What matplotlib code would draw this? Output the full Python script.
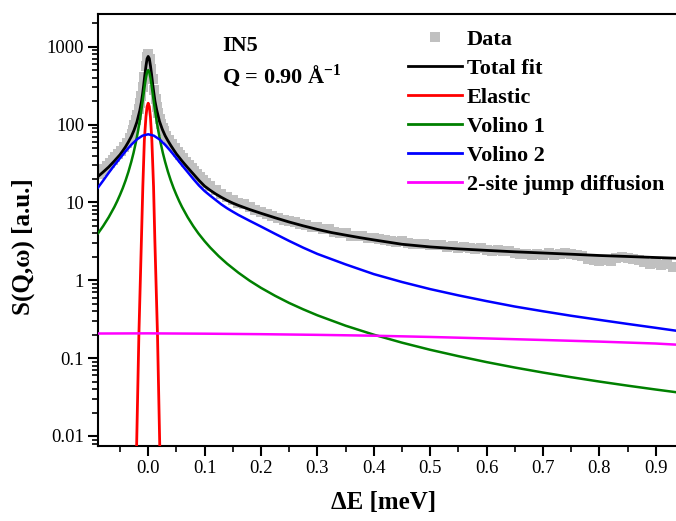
import matplotlib
matplotlib.use("Agg")
import matplotlib.pyplot as plt
from matplotlib.lines import Line2D
from matplotlib.ticker import FixedLocator, NullFormatter, LogLocator

plt.rcParams['font.family'] = ['Liberation Serif', 'DejaVu Serif']
plt.rcParams['mathtext.fontset'] = 'custom'
plt.rcParams['mathtext.rm'] = 'Liberation Serif'
plt.rcParams['mathtext.bf'] = 'Liberation Serif:bold'

# ---------------- data ----------------
data_x = [-0.088, -0.083, -0.078, -0.073, -0.068, -0.063, -0.058, -0.053, -0.048, -0.043,
          -0.038, -0.033, -0.0295, -0.027, -0.0245, -0.022, -0.0195, -0.017, -0.0145, -0.012,
          -0.0095, -0.007, -0.0045, -0.002, 0.0005, 0.003, 0.0055, 0.008, 0.0105, 0.013,
          0.0155, 0.018, 0.0205, 0.023, 0.0255, 0.028, 0.032, 0.037, 0.042, 0.047,
          0.052, 0.057, 0.062, 0.067, 0.072, 0.077, 0.082, 0.087, 0.092, 0.097, 0.102,
          0.11, 0.12, 0.13, 0.14, 0.15, 0.16, 0.17, 0.18, 0.19, 0.20,
          0.21, 0.22, 0.23, 0.24, 0.25, 0.26, 0.27, 0.28, 0.29, 0.30,
          0.31, 0.32, 0.33, 0.34, 0.35, 0.36, 0.37, 0.38, 0.39, 0.40,
          0.41, 0.42, 0.43, 0.44, 0.45, 0.46, 0.47, 0.48, 0.49, 0.50,
          0.51, 0.52, 0.53, 0.54, 0.55, 0.56, 0.57, 0.58, 0.59, 0.60,
          0.61, 0.62, 0.63, 0.64, 0.65, 0.66, 0.67, 0.68, 0.69, 0.70,
          0.71, 0.72, 0.73, 0.74, 0.75, 0.76, 0.77, 0.78, 0.79, 0.80,
          0.81, 0.82, 0.83, 0.84, 0.85, 0.86, 0.87, 0.88, 0.89, 0.90,
          0.91, 0.92, 0.93]
data_y = [23.5, 25, 27, 29.5, 32, 35, 38.5, 42, 46, 51,
          58, 67, 76, 86, 98, 115, 133, 158, 190, 235,
          300, 410, 560, 730, 800, 700, 520, 380, 280, 215,
          170, 140, 118, 102, 90, 82, 72, 63, 56, 50,
          45, 41, 37, 33.5, 30.5, 28, 25.5, 23, 21, 19.5, 18,
          16.2, 14.5, 13, 11.8, 10.8, 9.9, 9.4, 8.8, 8.0, 7.6,
          7.1, 6.6, 6.3, 6.0, 5.8, 5.6, 5.3, 5.2, 4.9, 4.8,
          4.6, 4.5, 4.2, 4.1, 4.0, 3.75, 3.7, 3.65, 3.5, 3.45,
          3.4, 3.25, 3.2, 3.1, 3.15, 3.05, 2.95, 2.9, 2.95, 2.85,
          2.8, 2.85, 2.7, 2.75, 2.62, 2.7, 2.6, 2.55, 2.6, 2.45,
          2.4, 2.45, 2.35, 2.4, 2.25, 2.15, 2.2, 2.1, 2.2, 2.12,
          2.25, 2.1, 2.2, 2.25, 2.2, 2.1, 2.05, 1.85, 1.8, 1.75,
          1.8, 1.75, 1.95, 2.0, 1.95, 1.9, 1.8, 1.7, 1.6, 1.65,
          1.55, 1.6, 1.5]

total_x = [-0.089, -0.08, -0.07, -0.06, -0.05, -0.045, -0.04, -0.035, -0.03, -0.025,
           -0.02, -0.015, -0.012, -0.01, -0.008, -0.006, -0.004, -0.002, 0.0, 0.002,
           0.004, 0.006, 0.008, 0.01, 0.012, 0.015, 0.02, 0.025, 0.03, 0.035,
           0.04, 0.045, 0.05, 0.06, 0.07, 0.08, 0.09, 0.10, 0.11, 0.12,
           0.13, 0.14, 0.15, 0.16, 0.18, 0.20, 0.225, 0.25, 0.275, 0.30,
           0.325, 0.35, 0.375, 0.40, 0.45, 0.50, 0.55, 0.60, 0.65, 0.70,
           0.75, 0.80, 0.85, 0.90, 0.936]
total_y = [21.5, 24.5, 28.5, 34, 41, 46, 52, 60, 70, 85,
           108, 150, 195, 245, 320, 430, 560, 700, 750, 705,
           570, 440, 330, 255, 200, 155, 110, 87, 72, 62,
           54, 47.5, 42, 34, 28, 23.2, 19.2, 16.2, 14.3, 12.8,
           11.6, 10.6, 9.8, 9.15, 8.1, 7.25, 6.35, 5.6, 5.0, 4.5,
           4.1, 3.8, 3.53, 3.3, 2.9, 2.68, 2.53, 2.42, 2.32, 2.24,
           2.16, 2.08, 2.02, 1.96, 1.92]

elastic_x = [-0.025, -0.0205, -0.0165, -0.012, -0.0095, -0.0068, -0.004, -0.002, 0.0,
             0.002, 0.004, 0.0065, 0.0095, 0.0118, 0.0165, 0.0205, 0.025]
elastic_y = [1e-4, 0.0075, 0.2, 3.3, 16, 63, 125, 170, 188,
             170, 125, 63, 16, 3.3, 0.2, 0.0075, 1e-4]

volino1_x = [-0.089, -0.08, -0.07, -0.06, -0.055, -0.05, -0.045, -0.04, -0.035, -0.03,
             -0.026, -0.022, -0.018, -0.015, -0.012, -0.01, -0.008, -0.006, -0.004, -0.002,
             0.0, 0.002, 0.004, 0.006, 0.008, 0.01, 0.012, 0.015, 0.018, 0.022,
             0.026, 0.03, 0.035, 0.04, 0.045, 0.05, 0.055, 0.06, 0.07, 0.08,
             0.089, 0.10, 0.11, 0.125, 0.14, 0.16, 0.18, 0.20, 0.225, 0.25,
             0.275, 0.30, 0.35, 0.40, 0.45, 0.50, 0.55, 0.60, 0.65, 0.70,
             0.75, 0.80, 0.85, 0.90, 0.936]
volino1_y = [4.0, 4.95, 6.45, 8.73, 10.36, 12.5, 15.3, 19.2, 24.8, 33.2,
             43.2, 58.4, 82.5, 110.7, 154, 195, 250, 320, 400, 470.6,
             500, 470.6, 400, 320, 250, 195, 154, 110.7, 82.5, 58.4,
             43.2, 33.2, 24.8, 19.2, 15.3, 12.5, 10.36, 8.73, 6.45, 4.95,
             4.0, 3.18, 2.63, 2.04, 1.63, 1.25, 0.986, 0.799, 0.632, 0.511,
             0.423, 0.355, 0.261, 0.20, 0.158, 0.128, 0.106, 0.0889, 0.0757, 0.0653,
             0.0569, 0.050, 0.0443, 0.0395, 0.0365]

volino2_x = [-0.089, -0.08, -0.07, -0.06, -0.05, -0.04, -0.03, -0.02, -0.01, 0.0,
             0.01, 0.02, 0.03, 0.04, 0.05, 0.06, 0.07, 0.08, 0.09, 0.10,
             0.11, 0.12, 0.13, 0.14, 0.15, 0.16, 0.18, 0.20, 0.225, 0.25,
             0.275, 0.30, 0.35, 0.40, 0.45, 0.50, 0.55, 0.60, 0.65, 0.70,
             0.75, 0.80, 0.85, 0.90, 0.936]
volino2_y = [15.5, 19, 24, 30, 37, 45.5, 55, 64.5, 72, 75,
             72, 64.5, 55, 45.5, 37, 30, 24.5, 20, 16.5, 14,
             12.2, 10.7, 9.4, 8.4, 7.6, 6.9, 5.8, 4.9, 3.95, 3.2,
             2.62, 2.18, 1.6, 1.2, 0.95, 0.77, 0.64, 0.54, 0.46, 0.40,
             0.35, 0.31, 0.275, 0.245, 0.225]

jump_x = [-0.089, 0.0, 0.1, 0.2, 0.3, 0.4, 0.5, 0.6, 0.7, 0.8, 0.9, 0.936]
jump_y = [0.207, 0.208, 0.206, 0.203, 0.199, 0.194, 0.187, 0.179, 0.171, 0.163, 0.154, 0.149]

x_ticks = [0.0, 0.1, 0.2, 0.3, 0.4, 0.5, 0.6, 0.7, 0.8, 0.9]
x_ticklabels = ["0.0", "0.1", "0.2", "0.3", "0.4", "0.5", "0.6", "0.7", "0.8", "0.9"]
x_minor = [-0.05, 0.05, 0.15, 0.25, 0.35, 0.45, 0.55, 0.65, 0.75, 0.85]
y_ticks = [0.01, 0.1, 1, 10, 100, 1000]
y_ticklabels = ["0.01", "0.1", "1", "10", "100", "1000"]
labels = ["Data", "Total fit", "Elastic", "Volino 1", "Volino 2", "2-site jump diffusion"]

# ---------------- figure ----------------
W, H = 676, 521
fig = plt.figure(figsize=(W / 100, H / 100), dpi=100)
ax = fig.add_axes([98 / W, 1 - 445.7 / H, 1 - 98 / W, (445.7 - 14) / H])

ax.plot(data_x, data_y, 's', color='#c0c0c0', markersize=7.5, markeredgewidth=0, zorder=1)
ax.plot(total_x, total_y, '-', color='black', lw=2.0, zorder=3)
ax.plot(elastic_x, elastic_y, '-', color='#ff0000', lw=2.0, zorder=4)
ax.plot(volino1_x, volino1_y, '-', color='#008000', lw=1.8, zorder=4)
ax.plot(volino2_x, volino2_y, '-', color='#0000ff', lw=1.8, zorder=4)
ax.plot(jump_x, jump_y, '-', color='#ff00ff', lw=1.8, zorder=4)

ax.set_yscale('log')
ax.set_xlim(-0.089, 0.936)
ax.set_ylim(0.0075, 2630)

ax.set_xticks(x_ticks)
ax.set_xticklabels(x_ticklabels)
ax.xaxis.set_minor_locator(FixedLocator(x_minor))
ax.set_yticks(y_ticks)
ax.set_yticklabels(y_ticklabels)
ax.yaxis.set_minor_locator(LogLocator(base=10, subs=range(2, 10), numticks=20))
ax.yaxis.set_minor_formatter(NullFormatter())

for s in ['left', 'bottom', 'top']:
    ax.spines[s].set_linewidth(1.5)
ax.spines['right'].set_visible(False)
ax.tick_params(which='major', direction='out', length=7, width=1.5, labelsize=13.5, pad=3)
ax.tick_params(which='minor', direction='out', length=4, width=1.2)
ax.tick_params(axis='x', which='both', top=False)
ax.tick_params(axis='y', which='both', right=False)

fig.text(383.5 / W, 1 - 502 / H, "ΔE [meV]", fontsize=18, fontweight='bold',
         ha='center', va='center')
fig.text(23 / W, 1 - 247 / H, "S(Q,ω) [a.u.]", fontsize=18, fontweight='bold',
         ha='center', va='center', rotation=90)

fig.text(222 / W, 1 - 46 / H, "IN5", fontsize=16, fontweight='bold', va='center', ha='left')
fig.text(222 / W, 1 - 76 / H, r"Q = 0.90 Å$^{\mathbf{-1}}$", fontsize=16, fontweight='bold',
         va='center', ha='left')

handles = [
    Line2D([], [], ls='none', marker='s', color='#c0c0c0', markersize=7, markeredgewidth=0),
    Line2D([], [], color='black', lw=2.0),
    Line2D([], [], color='#ff0000', lw=2.0),
    Line2D([], [], color='#008000', lw=2.0),
    Line2D([], [], color='#0000ff', lw=2.0),
    Line2D([], [], color='#ff00ff', lw=2.0),
]
fig.legend(handles, labels, loc='upper left', bbox_to_anchor=(408 / W, 1 - 29 / H),
           bbox_transform=fig.transFigure, frameon=False, borderpad=0, borderaxespad=0,
           handlelength=2.43, handletextpad=0.22, labelspacing=0.38,
           prop={'family': 'Liberation Serif', 'weight': 'bold', 'size': 16})

fig.savefig("out.png", dpi=100)
